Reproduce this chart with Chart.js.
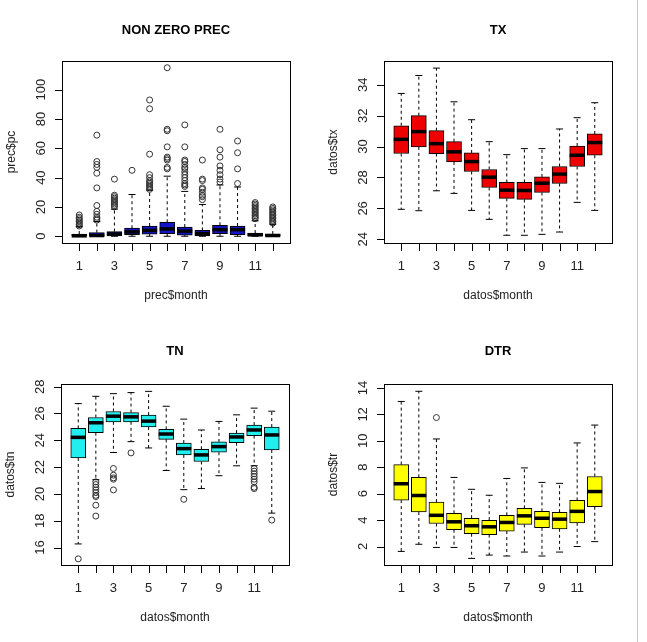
<!DOCTYPE html>
<html><head><meta charset="utf-8">
<script src="https://cdn.jsdelivr.net/npm/chart.js@4"></script>
<style>
body{margin:0;background:#fff;width:647px;height:642px;position:relative;overflow:hidden}
canvas{position:absolute}
#vl{position:absolute;left:637px;top:0;width:1px;height:642px;background:#c8c8c8}
</style></head><body>
<canvas id="c1"></canvas><canvas id="c2"></canvas><canvas id="c3"></canvas><canvas id="c4"></canvas>
<div id="vl"></div>
<script>
const months=[1,2,3,4,5,6,7,8,9,10,11,12];
const tickLabels=['1','3','5','7','9','11'];
// NON ZERO PREC
const precLo=[0,0,0,0,0,0,0,0,0,0,0,0];
const precQ1=[0,0,0.2,1,1.5,1.8,0.8,0.3,1.8,1,0.3,0];
const precMed=[0.3,0.5,1.5,3,4,5,3.5,1.8,4.5,4.5,1,0.5];
const precQ3=[1.5,2.5,3.2,5.5,7,9.5,6.3,4,7.5,7,2.2,1.5];
const precHi=[6.5,10,18.5,28.5,31.5,41,30.6,21.7,35,33.6,10.5,8.2];
const precOut=[[7,8,9,10,11,12,13,14.5],[11,12,13,15,17,21,33,43,47,49,51,69],[20,21,22,23,24,25,26,27,28,39],[45],[32,33,34,35,36,37,38,40,42,56,87,93],[46,47,52,53,54,61,72,73,115],[34,35,36,38,40,42,44,46,47,49,51,52,61,76],[25,27,28,30,32,33,38,39,52],[37,39,42,45,48,54,59,73],[36,46,57,65],[12,13,14,15,16,17,18,19,20,21,22,23],[9,10,11,12,13,14,15,16,17,18,19,20]];
// TX
const txLo=[25.94,25.85,27.14,26.97,25.87,25.29,24.26,24.26,24.32,24.47,26.39,25.87];
const txQ1=[29.55,29.98,29.55,29.01,28.39,27.35,26.65,26.58,27.03,27.61,28.71,29.44];
const txMed=[30.47,30.97,30.19,29.66,29.03,28.02,27.18,27.16,27.63,28.22,29.44,30.26];
const txQ3=[31.35,32.0,31.03,30.32,29.59,28.52,27.68,27.68,28.04,28.71,30.04,30.82];
const txHi=[33.44,34.6,35.08,32.9,31.74,30.32,29.48,29.87,29.87,31.14,31.87,32.84];
const txOut=[[],[],[],[],[],[],[],[],[],[],[],[]];
// TN
const tnLo=[16.27,21.06,23.09,23.9,23.43,21.75,20.32,20.4,21.36,22.1,22.1,18.57];
const tnQ1=[22.69,24.57,25.38,25.38,24.99,24.07,22.91,22.42,23.11,23.83,24.35,23.28];
const tnMed=[24.22,25.31,25.8,25.75,25.43,24.47,23.38,22.91,23.53,24.25,24.77,24.4];
const tnQ3=[24.89,25.7,26.15,26.07,25.88,24.81,23.8,23.33,23.88,24.54,25.14,24.99];
const tnHi=[26.74,27.28,27.48,27.56,27.65,26.54,25.58,24.77,25.41,25.9,26.4,26.17];
const tnOut=[[15.16],[20.9,20.7,20.5,20.3,20.1,19.9,19.8,19.16,18.35],[21.9,21.4,21.2,21.1,20.3],[23.06],[],[],[19.6],[],[],[],[21.9,21.7,21.5,21.3,21.1,20.9,20.5,20.4],[18.05]];
// DTR
const trLo=[1.63,2.17,1.93,1.93,1.1,1.35,1.28,1.58,1.28,1.58,2.0,2.37];
const trQ1=[5.51,4.61,3.74,3.27,2.97,2.9,3.17,3.67,3.42,3.34,3.79,5.01];
const trMed=[6.75,5.86,4.36,3.87,3.57,3.49,3.82,4.32,4.14,4.07,4.66,6.16];
const trQ3=[8.2,7.23,5.36,4.51,4.14,3.99,4.36,4.89,4.66,4.59,5.49,7.3];
const trHi=[12.98,13.75,10.14,7.23,6.33,5.88,7.15,7.95,6.85,6.78,9.84,11.19];
const trOut=[[],[],[11.76],[],[],[],[],[],[],[],[],[]];

const panels=[
 {id:'c1',left:0,top:0,w:323,h:321,pad:{left:62,top:61,right:33,bottom:78},title:'NON ZERO PREC',xt:'prec$month',yt:'prec$pc',col:'#1515c8',min:-4.6,max:119.6,yticks:[0,20,40,60,80,100],lo:precLo,q1:precQ1,med:precMed,q3:precQ3,hi:precHi,out:precOut},
 {id:'c2',left:323,top:0,w:324,h:321,pad:{left:61,top:61,right:35,bottom:78},title:'TX',xt:'datos$month',yt:'datos$tx',col:'#ee0000',min:23.76,max:35.54,yticks:[24,26,28,30,32,34],lo:txLo,q1:txQ1,med:txMed,q3:txQ3,hi:txHi,out:txOut},
 {id:'c3',left:0,top:321,w:323,h:321,pad:{left:61,top:63,right:34,bottom:77},title:'TN',xt:'datos$month',yt:'datos$tn',col:'#22eeee',min:14.7,max:28.2,yticks:[16,18,20,22,24,26,28],lo:tnLo,q1:tnQ1,med:tnMed,q3:tnQ3,hi:tnHi,out:tnOut},
 {id:'c4',left:323,top:321,w:324,h:321,pad:{left:61,top:63,right:35,bottom:77},title:'DTR',xt:'datos$month',yt:'datos$tr',col:'#ffff00',min:0.6,max:14.3,yticks:[2,4,6,8,10,12,14],lo:trLo,q1:trQ1,med:trMed,q3:trQ3,hi:trHi,out:trOut}
];
const FONT='"Liberation Sans", Arial, sans-serif';
const deco={id:'deco',
 afterDatasetsDraw(ch,a,o){
  const p=ch.options.plugins.deco.p, ctx=ch.ctx, x=ch.scales.x, y=ch.scales.y, A=ch.chartArea;
  ctx.save();
  ctx.strokeStyle='#000';
  months.forEach((m,i)=>{
    const px=x.getPixelForValue(m), hw=7;
    ctx.lineWidth=1; ctx.setLineDash([3,3]);
    ctx.beginPath();
    ctx.moveTo(px,y.getPixelForValue(p.q3[i]));ctx.lineTo(px,y.getPixelForValue(p.hi[i]));
    ctx.moveTo(px,y.getPixelForValue(p.q1[i]));ctx.lineTo(px,y.getPixelForValue(p.lo[i]));
    ctx.stroke(); ctx.setLineDash([]);
    ctx.beginPath();
    ctx.moveTo(px-hw/2,y.getPixelForValue(p.hi[i]));ctx.lineTo(px+hw/2,y.getPixelForValue(p.hi[i]));
    ctx.moveTo(px-hw/2,y.getPixelForValue(p.lo[i]));ctx.lineTo(px+hw/2,y.getPixelForValue(p.lo[i]));
    ctx.stroke();
    ctx.lineWidth=3.5; ctx.beginPath();
    ctx.moveTo(px-7.5,y.getPixelForValue(p.med[i]));ctx.lineTo(px+7.5,y.getPixelForValue(p.med[i]));
    ctx.stroke();
  });
  ctx.lineWidth=1;
  ctx.strokeRect(Math.round(A.left)+0.5,Math.round(A.top)+0.5,Math.round(A.right-A.left),Math.round(A.bottom-A.top));
  ctx.fillStyle='#222'; ctx.font='13px '+FONT;
  ctx.beginPath();
  months.forEach(m=>{const px=Math.round(x.getPixelForValue(m))+0.5;ctx.moveTo(px,A.bottom);ctx.lineTo(px,A.bottom+8);});
  p.yticks.forEach(v=>{const py=Math.round(y.getPixelForValue(v))+0.5;ctx.moveTo(A.left,py);ctx.lineTo(A.left-7,py);});
  ctx.stroke();
  ctx.textAlign='center';ctx.textBaseline='middle';
  tickLabels.forEach(t=>ctx.fillText(t,x.getPixelForValue(+t),A.bottom+23));
  p.yticks.forEach(v=>{ctx.save();ctx.translate(A.left-21,y.getPixelForValue(v));ctx.rotate(-Math.PI/2);ctx.fillText(String(v),0,0);ctx.restore();});
  ctx.font='12px '+FONT;
  ctx.fillText(p.xt,(A.left+A.right)/2,A.bottom+53);
  ctx.save();ctx.translate(A.left-50,(A.top+A.bottom)/2);ctx.rotate(-Math.PI/2);ctx.fillText(p.yt,0,0);ctx.restore();
  ctx.font='bold 13px '+FONT;ctx.fillStyle='#000';
  ctx.fillText(p.title,(A.left+A.right)/2,30);
  ctx.restore();
 }};
panels.forEach(p=>{
  const cv=document.getElementById(p.id);
  cv.style.left=p.left+'px';cv.style.top=p.top+'px';cv.style.width=p.w+'px';cv.style.height=p.h+'px';
  cv.width=p.w;cv.height=p.h;
  const outPts=[];p.out.forEach((arr,i)=>arr.forEach(v=>outPts.push({x:months[i],y:v})));
  new Chart(cv,{
    type:'bar',
    data:{datasets:[
      {type:'bar',data:months.map((m,i)=>({x:m,y:[p.q1[i],p.q3[i]]})),backgroundColor:p.col,borderColor:'#000',borderWidth:1,borderSkipped:false,barThickness:15},
      {type:'scatter',data:outPts,pointStyle:'circle',pointRadius:3,backgroundColor:'rgba(0,0,0,0)',borderColor:'#333',borderWidth:1}
    ]},
    options:{responsive:false,animation:false,devicePixelRatio:1,layout:{padding:p.pad},
      scales:{x:{type:'linear',min:0.02,max:12.98,offset:false,display:false},y:{min:p.min,max:p.max,display:false}},
      plugins:{legend:{display:false},tooltip:{enabled:false},deco:{p}}},
    plugins:[deco]
  });
});
</script></body></html>
